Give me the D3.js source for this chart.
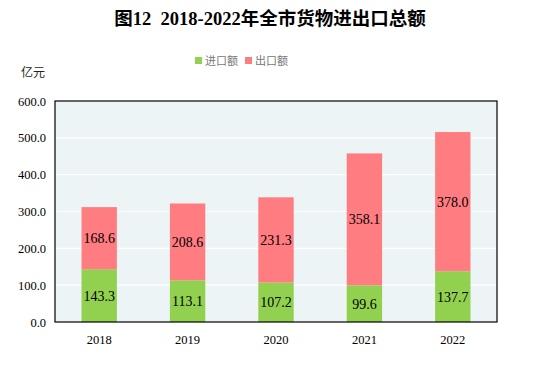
<!DOCTYPE html>
<html><head><meta charset="utf-8">
<script src="https://cdn.jsdelivr.net/npm/d3@7"></script>
<style>body{margin:0;background:#fff}</style>
</head><body>
<script>
const years = ["2018","2019","2020","2021","2022"];
const importVals = [143.3,113.1,107.2,99.6,137.7];
const exportVals = [168.6,208.6,231.3,358.1,378.0];
const yTicks = [0,100,200,300,400,500,600];
const seriesNames = ["进口额","出口额"];
const colors = ["#92D050","#FF7C80"];

const W=541,H=365;
const svg=d3.select("body").append("svg").attr("width",W).attr("height",H);
const m={l:55,r:44,t:101,b:43};
const x=d3.scaleBand().domain(years).range([m.l,W-m.r]).paddingInner(0.6).paddingOuter(0.3);
const y=d3.scaleLinear().domain([0,600]).range([H-m.b,m.t]);
const serif='"Liberation Serif","Times New Roman",serif';

svg.append("rect").attr("x",m.l).attr("y",m.t).attr("width",W-m.r-m.l).attr("height",y(0)-m.t).attr("fill","#EDF4F6");
svg.append("g").selectAll("line").data(yTicks.slice(1,-1)).join("line")
  .attr("x1",m.l).attr("x2",W-m.r).attr("y1",d=>y(d)).attr("y2",d=>y(d)).attr("stroke","#fff").attr("stroke-width",1.2);

const stack=years.map((yr,i)=>({yr,imp:importVals[i],exp:exportVals[i]}));
const g=svg.append("g");
g.selectAll(".imp").data(stack).join("rect").attr("x",d=>x(d.yr)).attr("width",x.bandwidth())
 .attr("y",d=>y(d.imp)).attr("height",d=>y(0)-y(d.imp)).attr("fill",colors[0]);
g.selectAll(".exp").data(stack).join("rect").attr("x",d=>x(d.yr)).attr("width",x.bandwidth())
 .attr("y",d=>y(d.imp+d.exp)).attr("height",d=>y(d.imp)-y(d.imp+d.exp)).attr("fill",colors[1]);
g.selectAll(".ti").data(stack).join("text").attr("x",d=>x(d.yr)+x.bandwidth()/2).attr("y",d=>y(d.imp/2)+5)
 .attr("text-anchor","middle").attr("font-family",serif).attr("font-size",14).text(d=>d.imp.toFixed(1));
g.selectAll(".te").data(stack).join("text").attr("x",d=>x(d.yr)+x.bandwidth()/2).attr("y",d=>y(d.imp+d.exp/2)+5)
 .attr("text-anchor","middle").attr("font-family",serif).attr("font-size",14).text(d=>d.exp.toFixed(1));

svg.append("rect").attr("x",m.l).attr("y",m.t).attr("width",W-m.r-m.l).attr("height",y(0)-m.t)
 .attr("fill","none").attr("stroke","#000").attr("stroke-width",1.2);

const ya=svg.append("g").attr("transform",`translate(${m.l},0)`).call(d3.axisLeft(y).tickValues(yTicks).tickSize(0).tickPadding(9).tickFormat(d=>d.toFixed(1)));
ya.select(".domain").remove();
ya.selectAll("text").attr("font-family",serif).attr("font-size",12.5).attr("fill","#000");
const xa=svg.append("g").attr("transform",`translate(0,${y(0)})`).call(d3.axisBottom(x).tickSize(0).tickPadding(13));
xa.select(".domain").remove();
xa.selectAll("text").attr("font-family",serif).attr("font-size",12.5).attr("fill","#000");

svg.append("text").attr("x",270).attr("y",25).attr("text-anchor","middle").attr("font-family",'"Liberation Serif","Noto Sans CJK SC",serif')
 .attr("font-weight","bold").attr("font-size",18.5).style("white-space","pre").text("图12  2018-2022年全市货物进出口总额");
svg.append("text").attr("x",33).attr("y",77).attr("text-anchor","middle").attr("font-family",'"Noto Sans CJK SC",sans-serif').attr("font-size",12).attr("fill","#222").text("亿元");

const lg=svg.append("g");
const lx=[195,245];
seriesNames.forEach((n,i)=>{
  lg.append("rect").attr("x",lx[i]).attr("y",57).attr("width",7).attr("height",7).attr("fill",colors[i]);
  lg.append("text").attr("x",lx[i]+10).attr("y",64.5).attr("font-family",'"Noto Sans CJK SC",sans-serif').attr("font-size",11).attr("fill","#777").text(n);
});
</script>
</body></html>
